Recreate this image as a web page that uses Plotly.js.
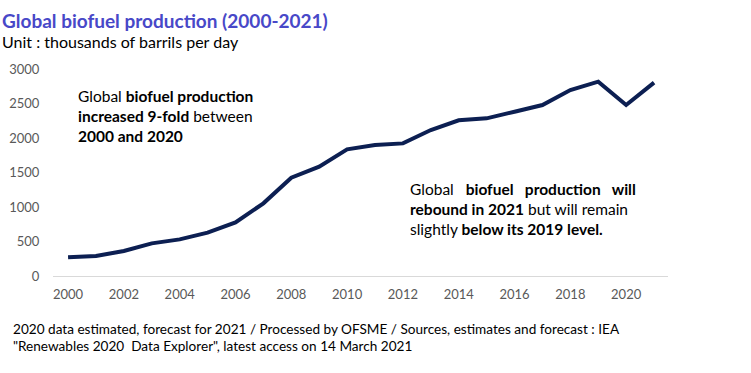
<!DOCTYPE html>
<html>
<head>
<meta charset="utf-8">
<script src="https://cdn.plot.ly/plotly-3.0.1.min.js"></script>
<style>html,body{margin:0;padding:0;background:#fff;}#chart{width:751px;height:373px;}</style>
</head>
<body>
<div id="chart"></div>
<script>
const years = [2000,2001,2002,2003,2004,2005,2006,2007,2008,2009,2010,2011,2012,2013,2014,2015,2016,2017,2018,2019,2020,2021];
const production = [270,290,362,473,531,628,777,1053,1425,1584,1835,1898,1922,2116,2256,2285,2381,2478,2695,2816,2478,2802];
const xTicks = [2000,2002,2004,2006,2008,2010,2012,2014,2016,2018,2020];
const yTicks = [0,500,1000,1500,2000,2500,3000];

const FONT = 'Lato, "Open Sans", sans-serif';

const data = [{
  x: years, y: production, type: 'scatter', mode: 'lines',
  line: {color: '#0c1f52', width: 4},
  hoverinfo: 'skip'
}];

const layout = {
  width: 751, height: 373,
  margin: {l: 53, r: 83, t: 69, b: 97},
  paper_bgcolor: '#fff', plot_bgcolor: '#fff',
  showlegend: false,
  font: {family: FONT, color: '#000'},
  xaxis: {
    range: [1999.46, 2021.5], tickvals: xTicks, ticktext: xTicks.map(String),
    showgrid: false, zeroline: false, showline: false,
    ticks: 'outside', ticklen: 6, tickcolor: 'rgba(0,0,0,0)',
    tickfont: {family: FONT, size: 13, color: '#595959'}
  },
  yaxis: {
    range: [0, 3000], tickvals: yTicks, ticktext: yTicks.map(String),
    showgrid: false, zeroline: true, zerolinecolor: '#d9d9d9', zerolinewidth: 1, showline: false,
    ticks: 'outside', ticklen: 10, tickcolor: 'rgba(0,0,0,0)',
    tickfont: {family: FONT, size: 13, color: '#595959'}
  },
  annotations: [
    {xref: 'paper', yref: 'paper', x: -53/615, y: 1 + (69-20)/207, xanchor: 'left', yanchor: 'middle', showarrow: false,
     text: '<b>Global biofuel production (2000-2021)</b>', font: {family: FONT, size: 19, color: '#4848c8'}},
    {xref: 'paper', yref: 'paper', x: -53/615, y: 1 + (69-41)/207, xanchor: 'left', yanchor: 'middle', showarrow: false,
     text: 'Unit : thousands of barrils per day', font: {family: FONT, size: 16, color: '#000'}},
    {xref: 'paper', yref: 'paper', x: (76-53)/615, y: 1 - (85-69)/207, xanchor: 'left', yanchor: 'top', showarrow: false, align: 'left',
     text: 'Global <b>biofuel production</b><br><b>increased 9-fold</b> between<br><b>2000 and 2020</b>',
     font: {family: FONT, size: 15.5, color: '#000'}},
    {xref: 'paper', yref: 'paper', x: (408-53)/615, y: 1 - (178-69)/207, xanchor: 'left', yanchor: 'top', showarrow: false, align: 'left',
     text: 'Global   <b>biofuel   production   will</b><br><b>rebound in 2021</b> but will remain<br>slightly <b>below its 2019 level.</b>',
     font: {family: FONT, size: 15.5, color: '#000'}},
    {xref: 'paper', yref: 'paper', x: -42/615, y: -(329-276)/207, xanchor: 'left', yanchor: 'middle', showarrow: false, align: 'left',
     text: '2020 data estimated, forecast for 2021 / Processed by OFSME / Sources, estimates and forecast : IEA',
     font: {family: FONT, size: 13.6, color: '#000'}},
    {xref: 'paper', yref: 'paper', x: -42/615, y: -(346-276)/207, xanchor: 'left', yanchor: 'middle', showarrow: false, align: 'left',
     text: '"Renewables 2020  Data Explorer", latest access on 14 March 2021',
     font: {family: FONT, size: 13.6, color: '#000'}}
  ]
};

Plotly.newPlot('chart', data, layout, {displayModeBar: false, staticPlot: true});
</script>
</body>
</html>
